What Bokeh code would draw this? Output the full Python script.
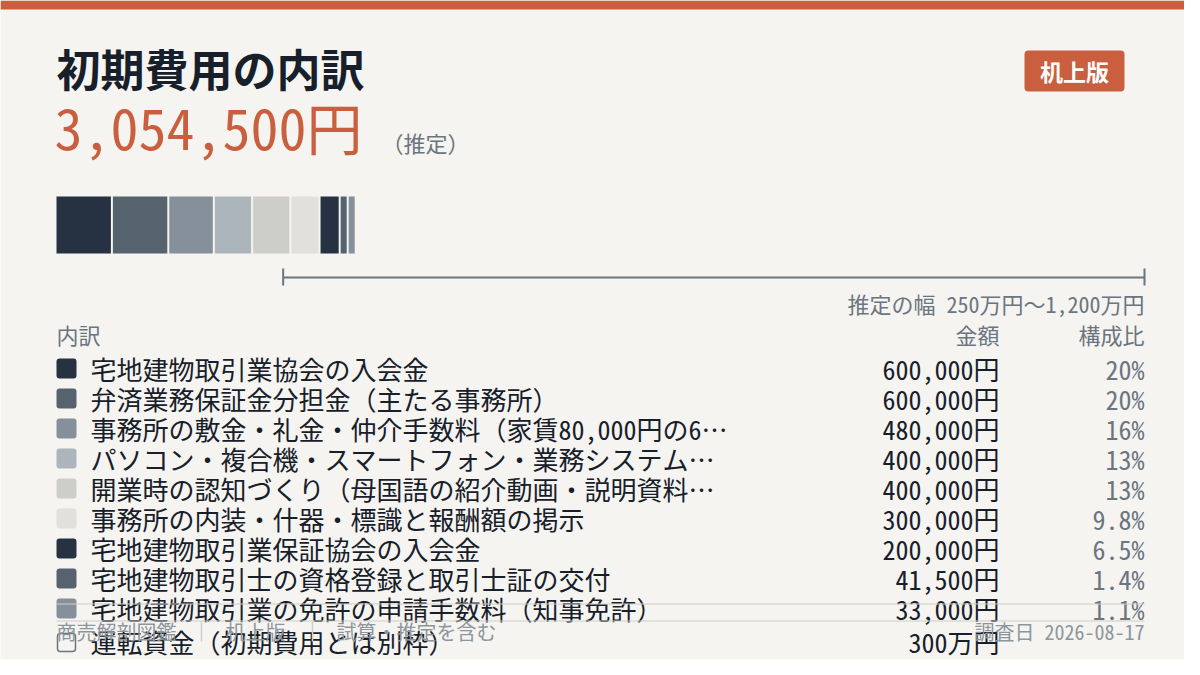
from bokeh.plotting import figure
from bokeh.models import Range1d
from bokeh.core.properties import value
from bokeh.embed import file_html
from bokeh.resources import INLINE

# ---------------- data ----------------
title = "初期費用の内訳"
total_label = "3,054,500円"
estimate_note = "（推定）"
badge_label = "机上版"
range_note = "推定の幅 250万円〜1,200万円"
range_low = 2_500_000
range_high = 12_000_000

items = [
    "宅地建物取引業協会の入会金",
    "弁済業務保証金分担金（主たる事務所）",
    "事務所の敷金・礼金・仲介手数料（家賃80,000円の6…",
    "パソコン・複合機・スマートフォン・業務システム…",
    "開業時の認知づくり（母国語の紹介動画・説明資料…",
    "事務所の内装・什器・標識と報酬額の掲示",
    "宅地建物取引業保証協会の入会金",
    "宅地建物取引士の資格登録と取引士証の交付",
    "宅地建物取引業の免許の申請手数料（知事免許）",
]
amounts = [600000, 600000, 480000, 400000, 400000, 300000, 200000, 41500, 33000]
amount_labels = ["600,000円", "600,000円", "480,000円", "400,000円", "400,000円",
                 "300,000円", "200,000円", "41,500円", "33,000円"]
share_labels = ["20%", "20%", "16%", "13%", "13%", "9.8%", "6.5%", "1.4%", "1.1%"]
colors = ["#263241", "#56636f", "#85909a", "#adb5bc", "#cdceca", "#e1e0dc",
          "#263241", "#56636f", "#85909a"]
extra_item = "運転資金（初期費用とは別枠）"
extra_amount = "300万円"
header_item = "内訳"
header_amount = "金額"
header_share = "構成比"
footer_parts = ["商売解剖図鑑", "机上版", "試算・推定を含む"]
footer_right = "調査日 2026-08-17"

# ---------------- style ----------------
BG = "#f5f4f0"
ORANGE = "#c95f3e"
DARK = "#17202a"
GREY = "#6b7580"
LIGHTGREY = "#8e969d"
RULE = "#cfcdc8"
FONT = "Noto Sans Mono CJK JP"

W, H = 1184, 659
p = figure(width=W, height=H, output_backend="svg", toolbar_location=None,
           x_range=Range1d(0, W), y_range=Range1d(H, 0),
           min_border=0, outline_line_color=None,
           background_fill_color=BG, border_fill_color=BG)
p.axis.visible = False
p.grid.visible = False

# yen scale: 0 yen at x=56, 12,000,000 yen at x=1144
LEFT, RIGHT = 56, 1144
ypp = range_high / (RIGHT - LEFT)
p.extra_x_ranges = {"yen": Range1d(-LEFT * ypp, range_high + (W - RIGHT) * ypp)}

def txt(x, y, t, size, color, align="left", style="normal", **kw):
    p.text(x=[x], y=[y], text=[t], text_font=value(FONT), text_font_size=size,
           text_color=color, text_align=align, text_baseline="middle",
           text_font_style=style, **kw)

# top band
p.quad(left=[0], right=[W], top=[0], bottom=[9], fill_color=ORANGE, line_color=None)

# title and total
txt(56, 67, title, "44px", DARK, style="bold")
txt(54, 125, total_label, "56px", ORANGE)
txt(381, 141, estimate_note, "22px", GREY)

# badge
p.rect(x=[1074], y=[70.5], width=100, height=41, fill_color=ORANGE, line_color=None,
       border_radius=4)
txt(1074, 70, badge_label, "23px", "#ffffff", align="center", style="bold")

# stacked bar (gap 2px, minimum width 6px)
gap = 2 * ypp
min_w = 6 * ypp
lefts, rights = [], []
cur = 0.0
for a in amounts:
    w = max(a, min_w)
    lefts.append(cur)
    rights.append(cur + w)
    cur += w + gap
p.quad(left=lefts, right=rights, top=[196] * len(amounts), bottom=[253] * len(amounts),
       fill_color=colors, line_color=None, x_range_name="yen")

# estimate range
p.segment(x0=[range_low], x1=[range_high], y0=[277], y1=[277], line_color=GREY,
          line_width=2, x_range_name="yen")
p.segment(x0=[range_low, range_high], x1=[range_low, range_high], y0=[268, 268],
          y1=[285, 285], line_color=GREY, line_width=2, x_range_name="yen")
txt(1144, 302, range_note, "22px", GREY, align="right")

# headers
txt(56, 333, header_item, "22px", GREY)
txt(999, 333, header_amount, "22px", GREY, align="right")
txt(1144, 333, header_share, "22px", GREY, align="right")

# rows
ys = [368 + 30 * i for i in range(len(items))]
p.rect(x=[66] * len(items), y=ys, width=20, height=20, fill_color=colors,
       line_color=None, border_radius=3)
p.text(x=[90] * len(items), y=ys, text=items, text_font=value(FONT),
       text_font_size="26px", text_color=DARK, text_baseline="middle")
p.text(x=[999] * len(items), y=ys, text=amount_labels, text_font=value(FONT),
       text_font_size="26px", text_color=DARK, text_baseline="middle", text_align="right")
p.text(x=[1144] * len(items), y=ys, text=share_labels, text_font=value(FONT),
       text_font_size="26px", text_color=GREY, text_baseline="middle", text_align="right")

# footer rules
p.segment(x0=[56, 56], x1=[1144, 1144], y0=[603.5, 620.5], y1=[603.5, 620.5],
          line_color=RULE, line_width=1)

# extra row (working capital)
y_extra = 641
p.rect(x=[66], y=[y_extra + 1], width=18, height=18, fill_color=BG, line_color=GREY,
       line_width=1.5, border_radius=3)
txt(90, y_extra, extra_item, "26px", DARK)
txt(999, y_extra, extra_amount, "26px", DARK, align="right")

# footer text
foot_x = [56, 225, 336]
for x, t in zip(foot_x, footer_parts):
    txt(x, 631, t, "20px", LIGHTGREY)
p.segment(x0=[201, 312], x1=[201, 312], y0=[621, 621], y1=[641, 641],
          line_color=RULE, line_width=1.5)
txt(1144, 631, footer_right, "20px", LIGHTGREY, align="right")

open("out.html", "w").write(file_html(p, INLINE))
